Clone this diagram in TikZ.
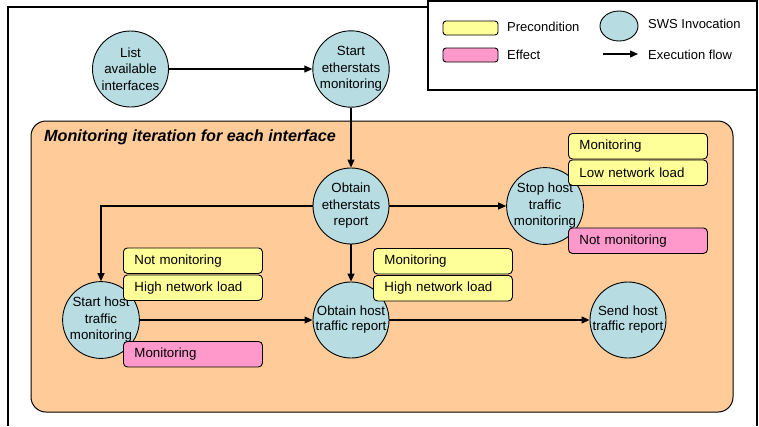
\documentclass[tikz,border=0pt]{standalone}
\usepackage{fontspec}
\setmainfont{Liberation Sans}
\usetikzlibrary{arrows.meta,shapes.geometric}
\definecolor{swsfill}{RGB}{183,221,226}
\definecolor{iterfill}{RGB}{255,204,153}
\definecolor{prefill}{RGB}{255,255,153}
\definecolor{efffill}{RGB}{255,153,204}
\begin{document}
\begin{tikzpicture}[x=1pt,y=-1pt,
  sws/.style={circle, draw, fill=swsfill, line width=0.9pt, minimum size=76pt, inner sep=0pt, align=center, font=\fontsize{13.3}{16.5}\selectfont},
  cond/.style={rectangle, rounded corners=4pt, draw, line width=0.9pt, minimum height=25.5pt, text width=117pt, inner xsep=11pt, inner ysep=0pt, anchor=north west, align=left, font=\fontsize{13.3}{16}\selectfont},
  pre/.style={cond, fill=prefill},
  eff/.style={cond, fill=efffill},
  flow/.style={-{Triangle[length=8pt,width=7pt]}, line width=1.2pt},
  frame/.style={line width=1.4pt},
  legtext/.style={anchor=west, inner sep=0pt, font=\fontsize{13}{15}\selectfont}
]
\useasboundingbox (0,0) rectangle (759,426);
% outer frame
\draw[frame] (8,426) -- (8,7) -- (428,7);
\draw[frame] (757,90) -- (757,426);
% legend
\draw[frame, fill=white] (428,1) rectangle (757,90);
\node[draw, fill=prefill, rounded corners=3pt, line width=0.9pt, minimum width=55pt, minimum height=14pt, inner sep=0pt] (lpre) at (470.5,28) {};
\node[draw, fill=efffill, rounded corners=3pt, line width=0.9pt, minimum width=55pt, minimum height=14pt, inner sep=0pt] (leff) at (470.5,55) {};
\node[legtext] (lpret) at (507,27) {Precondition};
\node[legtext] (lefft) at (507,55) {Effect};
\node[ellipse, draw, fill=swsfill, line width=0.9pt, minimum width=38pt, minimum height=30pt, inner sep=0pt] (lsws) at (619,26) {};
\node[legtext] (lswst) at (648,24) {SWS Invocation};
\coordinate (la) at (603,54);
\coordinate (lb) at (638,54);
\draw[flow] (la) -- (lb);
\node[legtext] (lflowt) at (648,55) {Execution flow};
% iteration box
\draw[line width=1pt, fill=iterfill, rounded corners=15pt] (31,121) rectangle (733,412);
\node[anchor=west, inner sep=0pt, font=\fontsize{16.2}{19}\selectfont\bfseries\itshape] (title) at (44,137) {Monitoring iteration for each interface};
% SWS nodes
\node[sws] (list) at (130.5,69) {List\\available\\interfaces};
\node[sws] (startes) at (351,69) {Start\\etherstats\\monitoring};
\node[sws] (obtes) at (351,206) {Obtain\\etherstats\\report};
\node[sws] (stop) at (545,206) {Stop host\\traffic\\monitoring};
\node[sws] (starth) at (101,320) {Start host\\traffic\\monitoring};
\node[sws, font=\fontsize{13.3}{15}\selectfont] (obth) at (351,320) {Obtain host\\traffic report};
\node[sws, font=\fontsize{13.3}{15}\selectfont] (send) at (628,320) {Send host\\traffic report};
% conditions
\node[pre] (c1) at (568,133) {Monitoring};
\node[pre] (c2) at (568,159.5) {Low network load};
\node[eff] (c3) at (568,227.5) {Not monitoring};
\node[pre] (c4) at (123,247.5) {Not monitoring};
\node[pre] (c5) at (123,274.5) {High network load};
\node[eff] (c6) at (123,341) {Monitoring};
\node[pre] (c7) at (373,248) {Monitoring};
\node[pre] (c8) at (373,275) {High network load};
% flows
\draw[flow] (list) -- (startes);
\draw[flow] (startes) -- (obtes);
\draw[flow] (obtes) -- (stop);
\draw[flow] (obtes.west) -| (starth);
\draw[flow] (obtes) -- (obth);
\draw[flow] (starth) -- (obth);
\draw[flow] (obth) -- (send);
\end{tikzpicture}
\end{document}
